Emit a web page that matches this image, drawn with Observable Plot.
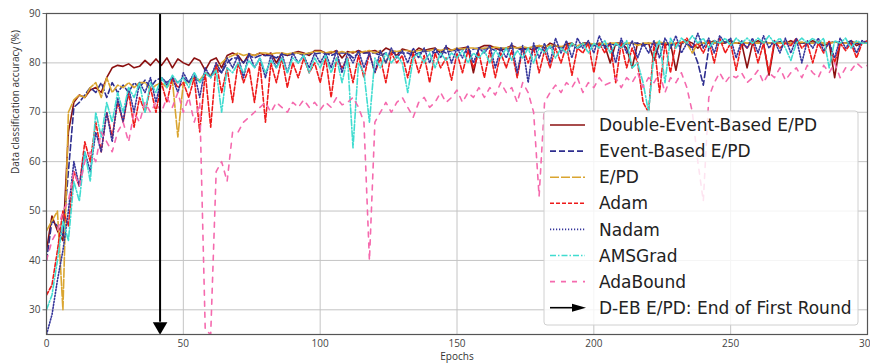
<!DOCTYPE html>
<html>
<head>
<meta charset="utf-8">
<script src="https://cdn.jsdelivr.net/npm/d3@7"></script>
<script src="https://cdn.jsdelivr.net/npm/@observablehq/plot@0.6"></script>
<style>
  html, body { margin: 0; padding: 0; background: #fff; }
  #chart svg { display: block; }
</style>
</head>
<body>
<div id="chart"></div>
<script>
// Epoch grid (every 2nd epoch, 0..300)
const epochs = d3.range(0, 301, 2);

const seriesNames = ["Double-Event-Based E/PD", "Event-Based E/PD", "E/PD", "Adam", "Nadam", "AMSGrad", "AdaBound"];
const arrowLabel = "D-EB E/PD: End of First Round";
const xTicks = [0, 50, 100, 150, 200, 250, 300];
const yTicks = [30, 40, 50, 60, 70, 80, 90];
const xLabel = "Epochs";
const yLabel = "Data classification accuracy (%)";

const debEPD = [
  42, 49, 46, 44, 66, 72, 73.5, 73, 74.5, 75,
  74, 77, 79, 79.5, 79.3, 79.8, 79, 79.3, 80.5, 79.5,
  80.8, 79.5, 81, 79, 80.8, 80, 79.5, 81, 80.5, 78.5,
  80.5, 81, 79, 81.5, 82, 81.5, 80, 81.8, 81.5, 82,
  81.5, 82, 80, 82, 81.5, 82, 82.3, 82, 81.5, 82.5,
  82.5, 82, 82, 82.5, 81, 82.3, 82, 82.5, 82, 82.3,
  82.5, 82, 83, 82.5, 81.5, 82.8, 82.5, 82, 83, 82.5,
  82.8, 83, 82, 83.2, 82.5, 82.8, 83, 83.2, 78, 83,
  83.5, 83.5, 83, 82.5, 83, 83.5, 83, 82.8, 83, 82.5,
  83.5, 83, 84, 83.5, 83, 83.8, 84, 83, 84, 84,
  83.5, 84, 83.5, 80, 84, 84, 83, 79, 84, 83.5,
  84, 80.5, 84, 83.5, 84, 78.5, 84, 84.5, 84, 83,
  84, 84, 84.5, 84, 84, 84.5, 84, 84, 79, 84,
  84.5, 84, 77.5, 84, 84, 84, 84.5, 84, 84, 84,
  84.5, 84, 83.5, 84, 77, 84, 84, 84.5, 83.5, 84, 84
];
const ebEPD = [
  40, 48, 47, 45, 58, 71, 72, 73.5, 75, 74,
  76, 73, 76, 74, 75.5, 74, 76, 75, 76.5, 75,
  76.5, 77, 75.5, 77, 76, 77, 76, 77.5, 76, 78,
  77.5, 79, 78, 80, 81, 81, 80, 81.5, 81, 81.5,
  81.5, 81.5, 81, 81.8, 81.5, 81.8, 82, 81.5, 82, 81.8,
  82, 82, 81.5, 82, 82, 82, 81, 82, 82, 82,
  82, 81.5, 82, 82, 82.3, 82, 82, 81.5, 82, 82.3,
  82.5, 82, 82.5, 82, 82.5, 82.5, 82.8, 82, 82.8, 83,
  82.8, 83, 82.5, 83, 82.8, 83, 83, 82.5, 83, 83,
  83, 82.5, 83, 83.5, 83, 83.5, 83.5, 83, 83.5, 84,
  83.5, 83.8, 83.5, 84, 83.5, 84, 83.8, 84, 84, 83.5,
  84, 83.8, 84, 84, 83.5, 84, 84, 83.8, 83, 80,
  75.5, 83, 84, 84, 84.3, 84, 84, 84.3, 84, 84,
  84, 84.3, 84, 84, 84.3, 84, 84, 84.5, 84, 84,
  84, 84.3, 84, 84, 84.3, 84, 84, 84.3, 84, 84, 84.3
];
const ePD = [
  46, 48, 50, 30, 70, 72.5, 73.5, 73, 75, 76,
  73, 77, 74, 75.5, 75, 76, 75, 76, 76, 74.5,
  75.5, 76, 75, 76.5, 65, 76, 76, 77, 76.5, 78,
  77.5, 79, 80, 81, 81.5, 82, 81.5, 81.8, 81.5, 82,
  82, 81.8, 82, 82, 81.8, 82, 82, 81.8, 82, 82.3,
  82.3, 82, 82.3, 82, 82.3, 82, 82.3, 82, 82.3, 82.5,
  82, 82.5, 80, 82.5, 82.3, 82.5, 82.5, 82.3, 82.5, 82.5,
  82.5, 82.8, 82.5, 82.8, 82.5, 83, 82.8, 83, 83, 82.8,
  83, 83, 83.2, 83, 83, 83.2, 83, 83.3, 83, 83.3,
  83.5, 83.3, 83.5, 83.5, 83.3, 83.5, 83.8, 83.5, 83.8, 84,
  83.8, 84, 83.8, 84, 84, 83.8, 84, 84, 83.5, 84,
  84, 84, 84.2, 84, 84, 84, 84.2, 84, 82, 84,
  84, 84.2, 84, 84, 84.2, 84, 84, 84.2, 84, 84,
  84, 84.2, 84, 84, 84, 84.2, 84, 84, 84.2, 84,
  84, 84.2, 84, 84, 84.2, 84, 84, 84, 84.2, 84, 84
];
const adam = [
  33, 35, 42, 50, 47, 58, 55, 64, 60, 68,
  62, 70, 65, 72, 68, 74, 67, 73, 70, 75,
  70, 76, 72, 77, 75, 76, 73, 77, 66, 78,
  67, 80, 74, 79, 72, 80, 76, 79, 72, 80,
  68, 80, 76, 81, 75, 80, 77, 81, 78, 80,
  76, 81, 73, 81, 79, 81, 76, 81.5, 77, 82,
  78, 81, 76, 82, 80, 81.5, 77, 82, 78, 81.5,
  76, 82, 79, 81, 76.5, 82, 78, 82.5, 79, 82,
  77, 82.5, 77, 82, 79, 82.5, 77, 83, 80, 83,
  78, 82.5, 79, 83, 80, 83.5, 77.5, 83, 82, 84,
  78, 84, 82, 84, 76, 84, 79, 83, 80, 72,
  70, 84, 74, 84, 78, 84, 84, 85, 83, 84,
  82, 84.5, 80, 85, 82, 84, 78.5, 84, 83, 84.5,
  80, 84, 78, 84.5, 83, 84, 83.5, 85, 83, 84,
  80, 84, 82, 84.5, 80, 84, 82.5, 84, 81, 84, 84.5
];
const nadam = [
  25, 29, 36, 42, 50, 60, 55, 62, 58, 66,
  62, 70, 64, 73, 68, 75, 70, 76, 74, 77,
  72, 77, 76, 77, 74, 78, 76, 78, 73, 79,
  77, 80, 78, 81, 79, 81.5, 77, 82, 79, 81,
  77, 81.5, 79, 82, 78, 82, 80, 81.5, 79, 82,
  80, 82, 79, 82.5, 78, 82, 80, 82.5, 79, 82,
  78, 82.5, 80, 83, 81, 82.5, 80, 83, 81, 83,
  80, 83, 81, 83.5, 80, 83, 81, 83.5, 80, 83,
  82, 83.5, 79, 83, 81, 84, 78, 83.5, 76, 84,
  81, 84, 80, 85, 82, 84.5, 81, 85, 83, 84.5,
  82, 85.5, 83, 84, 80, 85, 82, 84.5, 81, 84,
  82, 84.5, 81, 85, 83, 85.5, 82, 84, 83, 86,
  83, 85, 82, 85.5, 84, 85, 81, 84.5, 83, 85,
  82, 85.5, 83, 84.5, 82, 85, 82, 85, 80, 84.5,
  83, 85, 82.5, 84, 81, 85, 83, 84.5, 82, 84.5, 84
];
const amsgrad = [
  30, 33, 40, 48, 44, 56, 52, 62, 56, 70,
  65, 72, 68, 74, 70, 75, 73, 76, 70, 76,
  74, 77, 75, 77.5, 76, 77, 75, 78, 76, 78,
  77, 78.5, 70, 79, 78, 80, 78, 80.5, 79, 81,
  78, 80.5, 79, 81, 78, 81, 80, 81.5, 78, 81,
  79, 81.5, 78, 81, 76, 81, 62.8, 80, 78, 68,
  81, 79, 82, 80, 81.5, 80, 74, 81, 82, 80,
  82, 79, 82, 80.5, 82, 81, 82.5, 80, 82, 81,
  82.5, 80, 82.5, 81, 83, 80.5, 82.5, 81, 83, 80,
  83, 82, 83.5, 81, 83, 82, 84, 83, 84, 82,
  84, 83, 84.5, 82, 84, 83, 84.5, 79, 80, 76,
  70, 82, 84.5, 76, 85, 83, 85, 84, 85.5, 84,
  85, 83, 84.5, 84, 85, 83.5, 85, 84, 85, 84,
  85, 84, 85.5, 84, 85, 83, 80.5, 84, 85, 84,
  85, 84, 85, 79, 84.5, 84, 85, 83, 84.5, 84, 84
];
const adabound = [
  40, 44, 46, 50, 52, 58, 55, 60, 62, 60,
  66, 64, 62, 66, 68, 64, 70, 68, 72, 70,
  72, 70, 73, 71, 74, 70, 73, 68, 72, 26,
  25, 58, 60, 56, 66, 66, 68, 69, 70, 71,
  72, 70, 72, 71, 70, 72, 71, 72.5, 71, 72,
  70.5, 72, 71, 73, 71.5, 72, 73, 71, 68, 40,
  68, 70, 72, 70, 72, 73, 71, 69, 72, 73,
  71, 72, 74, 72, 73, 74.5, 72, 74, 73, 75,
  73, 75, 73.5, 76, 74, 75, 72, 76, 74, 70,
  53, 72, 74, 75.5, 74, 76, 75, 77, 74, 76,
  75, 77, 75.5, 76, 77, 75, 77, 76, 78, 75,
  77, 76, 78, 74, 77, 76, 78, 75, 70, 60,
  52, 73, 76, 78, 76, 77.5, 77, 78, 76, 77,
  78.5, 76, 78, 77, 79, 76.5, 78, 79, 77, 79.5,
  78, 77, 79.5, 78, 80, 77, 79, 78.5, 80, 79, 79.5
];

const arrowEpoch = [41.5];
const arrowFrom = 90;
const arrowTo = 25;

const seriesValues = [debEPD, ebEPD, ePD, adam, nadam, amsgrad, adabound];
const seriesStyle = [
  {stroke: "#8b1111", dash: null, width: 1.6},
  {stroke: "#2e2e8f", dash: "6,3", width: 1.6},
  {stroke: "#daa530", dash: "9,2", width: 1.6},
  {stroke: "#ee1a1a", dash: "4,2", width: 1.6},
  {stroke: "#35359a", dash: "1.2,1.8", width: 1.6},
  {stroke: "#40dcd0", dash: "6,2,1.5,2", width: 1.6},
  {stroke: "#f56aae", dash: "5,6", width: 1.6}
];

const tables = seriesValues.map((vals, s) => vals.map((v, i) => ({epoch: epochs[i], acc: v, series: seriesNames[s]})));

const lineMarks = tables.map((t, s) => Plot.line(t, {
  x: "epoch", y: "acc",
  stroke: seriesStyle[s].stroke,
  strokeWidth: seriesStyle[s].width,
  strokeDasharray: seriesStyle[s].dash,
  strokeLinejoin: "round",
  clip: true
}));

const chart = Plot.plot({
  width: 870,
  height: 363,
  marginLeft: 46,
  marginRight: 3,
  marginTop: 13,
  marginBottom: 29,
  style: {fontFamily: "'Open Sans', sans-serif", fontSize: "10px", color: "#333", background: "#fff"},
  x: {domain: [0, 300], ticks: xTicks, label: null, tickSize: 0, tickPadding: 4},
  y: {domain: [25, 90], ticks: yTicks, label: null, tickSize: 3.5, tickPadding: 2.5},
  marks: [
    Plot.gridX(xTicks, {stroke: "#c4c4c4", strokeOpacity: 1, strokeWidth: 1}),
    Plot.gridY(yTicks, {stroke: "#c4c4c4", strokeOpacity: 1, strokeWidth: 1}),
    ...lineMarks,
    Plot.ruleX(arrowEpoch, {x: d => d, y1: arrowFrom, y2: arrowTo + 2.5, stroke: "#000", strokeWidth: 2}),
    Plot.dot(arrowEpoch, {x: d => d, y: arrowTo + 1.65, symbol: "triangle", rotate: 180, r: 5.4, fill: "#000", stroke: "none"}),
    Plot.frame({stroke: "#555", strokeWidth: 1.2}),
    Plot.axisX({ticks: xTicks, tickSize: 0, tickPadding: 5, fill: "#444", label: null}),
    Plot.axisY({ticks: yTicks, tickSize: 3.5, tickPadding: 2.5, fill: "#444", stroke: "#666", label: null}),
    Plot.text([xLabel], {frameAnchor: "bottom", dy: 25, fill: "#333", fontSize: 10}),
    Plot.text([yLabel], {frameAnchor: "left", dx: -31, rotate: -90, fill: "#333", fontSize: 10})
  ]
});

document.getElementById("chart").appendChild(chart);

// Legend (matplotlib-style box inside the axes, lower right)
const svg = d3.select(chart);
const lg = svg.append("g").attr("transform", "translate(544,111)").attr("text-anchor", "start");
lg.append("rect").attr("x", 0).attr("y", 0).attr("width", 314).attr("height", 214)
  .attr("rx", 3).attr("fill", "#fff").attr("fill-opacity", 0.82).attr("stroke", "#d0d0d0");
const rowY = i => 14 + i * 26.1;
seriesNames.forEach((name, i) => {
  lg.append("line").attr("x1", 6).attr("x2", 41).attr("y1", rowY(i)).attr("y2", rowY(i))
    .attr("stroke", seriesStyle[i].stroke).attr("stroke-width", 1.6)
    .attr("stroke-dasharray", seriesStyle[i].dash);
  lg.append("text").attr("x", 55).attr("y", rowY(i)).attr("dy", "0.36em").attr("text-anchor", "start")
    .attr("font-family", "'DejaVu Sans', sans-serif").attr("font-size", 17).attr("fill", "#222").text(name);
});
const ai = seriesNames.length;
lg.append("line").attr("x1", 6).attr("x2", 30).attr("y1", rowY(ai)).attr("y2", rowY(ai))
  .attr("stroke", "#000").attr("stroke-width", 1.6);
lg.append("path").attr("d", `M28,${rowY(ai) - 4}L42,${rowY(ai)}L28,${rowY(ai) + 4}Z`).attr("fill", "#000");
lg.append("text").attr("x", 55).attr("y", rowY(ai)).attr("dy", "0.36em").attr("text-anchor", "start")
  .attr("font-family", "'DejaVu Sans', sans-serif").attr("font-size", 17).attr("fill", "#222").text(arrowLabel);
</script>
</body>
</html>
